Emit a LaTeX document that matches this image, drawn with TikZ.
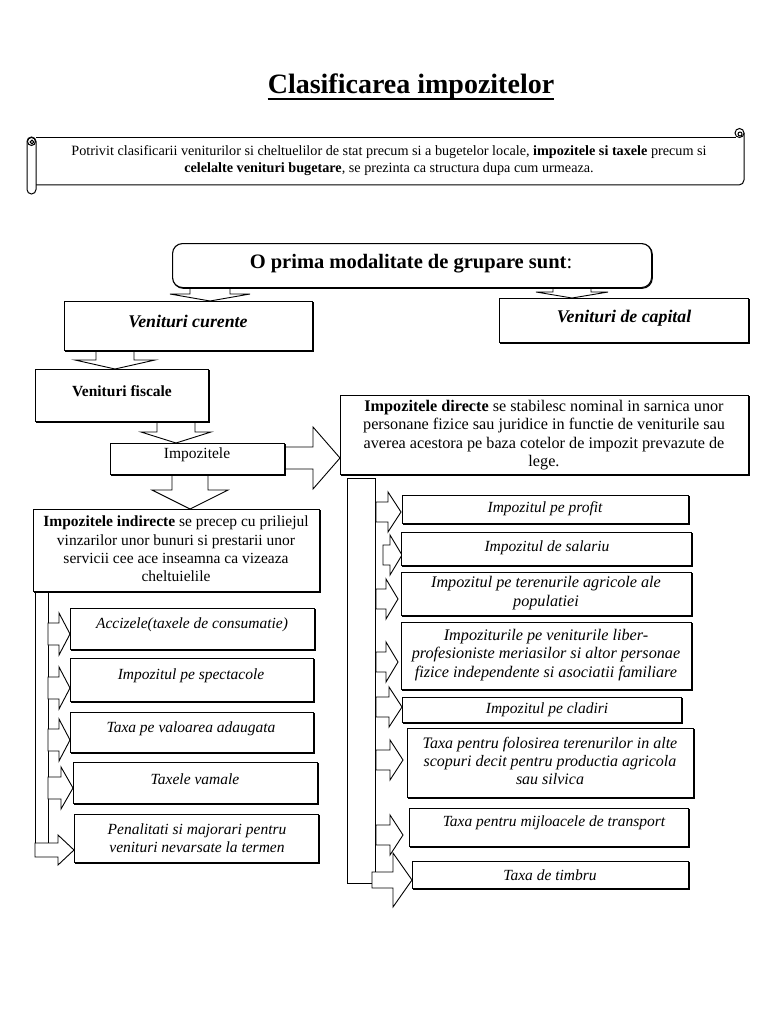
\documentclass[tikz,border=0pt]{standalone}
\usepackage{fontspec}
\setmainfont{Liberation Serif}
\usetikzlibrary{calc}
\tikzset{
  box/.style={draw, line width=1.1pt, anchor=north west, inner sep=0pt, fill=white,
    preaction={draw, line width=1.1pt, transform canvas={xshift=0.7pt,yshift=-0.7pt}}},
  txt/.style={font=\fontsize{15.5}{18.3}\selectfont, align=center, inner sep=0pt},
  itxt/.style={font=\fontsize{15.5}{18.3}\selectfont\itshape, align=center, inner sep=0pt},
  bigtxt/.style={font=\fontsize{16.2}{18.5}\selectfont, align=center, inner sep=0pt},
  ibigtxt/.style={font=\fontsize{16.2}{18.3}\selectfont\itshape, align=center, inner sep=0pt},
  stxt/.style={font=\fontsize{14.2}{17}\selectfont, align=center, inner sep=0pt},
  blk/.style={draw, line width=0.9pt, fill=white, line join=miter},
  sc/.style={draw, line width=1pt},
}
\newcommand\mkbox[6][]{\node[box,#1,minimum width={#5-#3},minimum height={#6-#4}] (#2) at (#3,#4) {};}
% down block arrow: cx, ytop, yhead, ytip, shaft half, head half
\newcommand\BlkDown[6]{\draw[blk] ({#1-#5},#2) -- ({#1-#5},#3) -- ({#1-#6},#3) -- (#1,#4) -- ({#1+#6},#3) -- ({#1+#5},#3) -- ({#1+#5},#2) -- cycle;}
% right block arrow: xstart, cy, xhead, xtip, shaft half, head half
\newcommand\BlkRight[6]{\draw[blk] (#1,{#2-#5}) -- (#3,{#2-#5}) -- (#3,{#2-#6}) -- (#4,#2) -- (#3,{#2+#6}) -- (#3,{#2+#5}) -- (#1,{#2+#5}) -- cycle;}
\begin{document}
\begin{tikzpicture}[x=1pt,y=-1pt]
\useasboundingbox (0,0) rectangle (768,1024);
\fill[white] (0,0) rectangle (768,1024);

% title
\node[inner sep=0pt, anchor=base, font=\fontsize{28}{34}\selectfont\bfseries] (title) at (411,94) {Clasificarea impozitelor};
\draw[line width=1.4pt] ($(title.base west)+(0,5)$) -- ($(title.base east)+(0,5)$);

% scroll
\draw[sc] (36,138) -- (736,138);
\draw[sc, rounded corners=5pt] (744,133) -- (744,185) -- (36,185);
\draw[sc, fill=white] (739.5,133) circle (4.5);
\draw[sc] (740,134) circle (2);
\draw[sc, fill=white, rounded corners=4.5pt] (27,137) rectangle (36,194);
\draw[sc, fill=white] (31.5,141.5) circle (4);
\draw[sc] (32,142) circle (1.8);
\node[stxt] (scrolltxt) at (389,161) {Potrivit clasificarii veniturilor si cheltuelilor de stat precum si a bugetelor locale, \textbf{impozitele si taxele} precum si\\\textbf{celelalte venituri bugetare}, se prezinta ca structura dupa cum urmeaza.};

% arrows (drawn first)
\BlkDown{210}{287}{294}{301}{20}{40}
\BlkDown{572}{287}{292}{298}{19}{36}
\BlkDown{115}{350}{360}{369}{19}{40}
\BlkDown{176}{421}{432}{443}{19}{35}
\BlkRight{284}{458}{313}{340}{11}{31}
\BlkDown{190}{474}{490}{509}{18}{38}

% header
\mkbox[rounded corners=10pt]{hdr}{172}{243}{651}{287}
\node[font=\fontsize{20.5}{24}\selectfont, inner sep=0pt] (hdrtxt) at (411,264) {\textbf{O prima modalitate de grupare sunt}:};

\mkbox{vc}{64}{301}{312}{350}
\node[font=\fontsize{17.8}{21}\selectfont\bfseries\itshape, inner sep=0pt] (vctxt) at (188,321) {Venituri curente};
\mkbox{vk}{499}{298}{748}{342}
\node[font=\fontsize{17.8}{21}\selectfont\bfseries\itshape, inner sep=0pt] (vktxt) at (624,318) {Venituri de capital};

\mkbox{vf}{35}{369}{208}{421}
\node[txt] (vftxt) at (122,391) {\textbf{Venituri fiscale}};
\mkbox{imp}{110}{443}{284}{474}
\node[txt] (imptxt) at (197,455) {Impozitele};

\mkbox{dir}{340}{395}{748}{474}
\node[bigtxt] (dirtxt) at (544,435) {\textbf{Impozitele directe} se stabilesc nominal in sarnica unor\\personane fizice sau juridice in functie de veniturile sau\\averea acestora pe baza cotelor de impozit prevazute de\\lege.};

\mkbox{ind}{33}{509}{319}{591}
\node[txt] (indtxt) at (176,549) {\textbf{Impozitele indirecte} se precep cu priliejul\\vinzarilor unor bunuri si prestarii unor\\servicii cee ace inseamna ca vizeaza\\cheltuielile};

% left bracket
\draw[line width=1pt] (48,843) -- (48,591);
\draw[line width=1pt] (35,591) -- (35,843);
\BlkRight{48}{634}{59}{70}{11}{21}
\BlkRight{48}{688}{59}{70}{11}{21}
\BlkRight{48}{740}{59}{70}{11}{21}
\BlkRight{48}{788}{61}{73}{11}{21}
\BlkRight{35}{850}{58}{74}{7}{15}

\mkbox{la}{70}{608}{314}{649}
\node[itxt] (latxt) at (192,625) {Accizele(taxele de consumatie)};
\mkbox{lb}{70}{658}{313}{701}
\node[itxt] (lbtxt) at (191,676) {Impozitul pe spectacole};
\mkbox{lc}{70}{712}{313}{752}
\node[itxt] (lctxt) at (191,729) {Taxa pe valoarea adaugata};
\mkbox{ld}{73}{762}{317}{803}
\node[itxt] (ldtxt) at (195,779) {Taxele vamale};
\mkbox{le}{74}{814}{318}{862}
\node[itxt] (letxt) at (197,838) {Penalitati si majorari pentru\\venituri nevarsate la termen};

% right bracket
\draw[line width=1pt] (375,872) -- (375,478) -- (347,478) -- (347,883) -- (372,883);
\BlkRight{376}{512}{388}{401}{10}{20}
\BlkRight{383}{555}{390}{402}{10}{20}
\BlkRight{376}{599}{386}{398}{10}{20}
\BlkRight{376}{662}{386}{398}{10}{20}
\BlkRight{376}{707}{389}{402}{10}{20}
\BlkRight{376}{760}{390}{403}{10}{20}
\BlkRight{376}{835}{390}{403}{10}{20}
\BlkRight{372}{880}{393}{412}{8}{27}

\mkbox{ra}{402}{495}{688}{523}
\node[itxt] (ratxt) at (545,509) {Impozitul pe profit};
\mkbox{rb}{401}{532}{691}{565}
\node[itxt] (rbtxt) at (547,548) {Impozitul de salariu};
\mkbox{rc}{401}{572}{691}{615}
\node[ibigtxt] (rctxt) at (546,593) {Impozitul pe terenurile agricole ale\\populatiei};
\mkbox{rd}{401}{622}{691}{689}
\node[ibigtxt] (rdtxt) at (546,655) {Impoziturile pe veniturile liber-\\profesioniste meriasilor si altor personae\\fizice independente si asociatii familiare};
\mkbox{re}{402}{697}{681}{722}
\node[itxt] (retxt) at (547,710) {Impozitul pe cladiri};
\mkbox{rf}{407}{728}{693}{797}
\node[itxt, font=\fontsize{16}{18.3}\selectfont\itshape] (rftxt) at (550,761) {Taxa pentru folosirea terenurilor in alte\\scopuri decit pentru productia agricola\\sau silvica};
\mkbox{rg}{409}{808}{688}{846}
\node[itxt] (rgtxt) at (554,823) {Taxa pentru mijloacele de transport};
\mkbox{rh}{412}{861}{688}{888}
\node[itxt] (rhtxt) at (550,875) {Taxa de timbru};
\end{tikzpicture}
\end{document}
